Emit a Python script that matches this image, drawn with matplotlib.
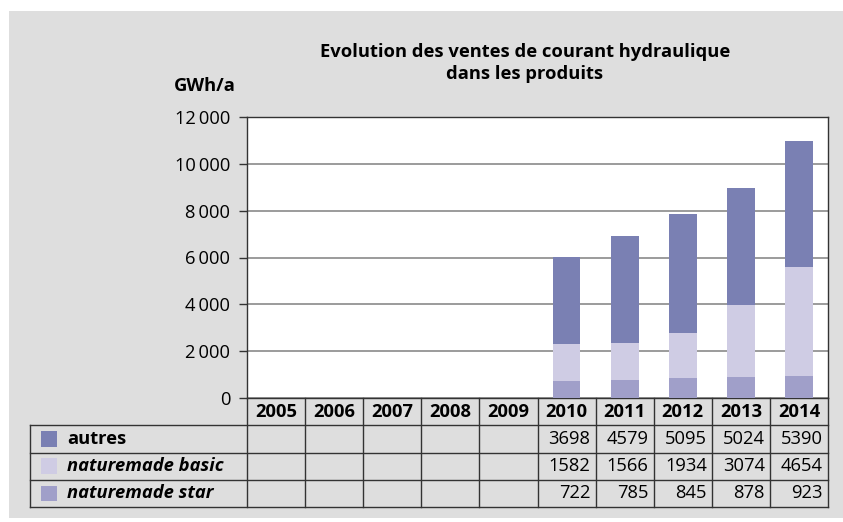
"""
Ventes de courant hydraulique dans les produits naturemade
"""
import numpy as np
import matplotlib
matplotlib.use("Agg")
import matplotlib.pyplot as plt
from matplotlib.patches import Rectangle

# ==========================
# données
# ==========================
years = ["2005", "2006", "2007", "2008", "2009", "2010", "2011", "2012", "2013", "2014"]
autres = [None, None, None, None, None, 3698, 4579, 5095, 5024, 5390]
basic = [None, None, None, None, None, 1582, 1566, 1934, 3074, 4654]
star = [None, None, None, None, None, 722, 785, 845, 878, 923]

series_names = ["autres", "naturemade basic", "naturemade star"]
series_styles = ["normal", "italic", "italic"]
colors = ["#7a80b3", "#cfcce4", "#a09fc9"]
yticks = [0, 2000, 4000, 6000, 8000, 10000, 12000]

plt.rcParams["font.family"] = ["Open Sans", "DejaVu Sans"]
FS = 13.2

W, H = 843, 522
fig = plt.figure(figsize=(W / 100, H / 100), dpi=100)
fig.patch.set_facecolor("white")

# fond gris
fig.patches.append(Rectangle((9 / W, 0.008), 1 - 9 / W, 1 - 11 / H - 0.008,
                             transform=fig.transFigure, facecolor="#dedede",
                             edgecolor="none", zorder=-10))

# ==========================
# graphique
# ==========================
x0, x1 = 247, 828
ax = fig.add_axes([x0 / W, (H - 398) / H, (x1 - x0) / W, 281 / H])
ax.set_facecolor("white")

x = np.arange(len(years))
a = np.array([v if v is not None else 0 for v in autres], dtype=float)
b = np.array([v if v is not None else 0 for v in basic], dtype=float)
s = np.array([v if v is not None else 0 for v in star], dtype=float)

ax.bar(x, s, 0.48, color=colors[2], zorder=3)
ax.bar(x, b, 0.48, bottom=s, color=colors[1], zorder=3)
ax.bar(x, a, 0.48, bottom=s + b, color=colors[0], zorder=3)

ax.set_xlim(-0.5, len(years) - 0.5)
ax.set_ylim(0, 12000)
ax.set_yticks(yticks)
ax.set_yticklabels([f"{v:,}".replace(",", "\u2009") for v in yticks], fontsize=FS)
ax.set_xticks([])
ax.yaxis.grid(True, color="#808080", linewidth=1.1, zorder=0)
ax.tick_params(axis="y", length=6, width=1, color="#333333", pad=6)
for sp in ax.spines.values():
    sp.set_color("#333333")
    sp.set_linewidth(1)

fig.text(525 / W, 1 - 63 / H, "Evolution des ventes de courant hydraulique\ndans les produits",
         ha="center", va="center", fontsize=FS, fontweight="bold", linespacing=1.35)
fig.text(205 / W, 1 - 86 / H, "GWh/a", ha="center", va="center", fontsize=FS,
         fontweight="bold")

# ==========================
# tableau
# ==========================
t0 = 30
unit = (x1 - x0) / len(years)
tax = fig.add_axes([t0 / W, (H - 507) / H, (x1 - t0) / W, 109 / H])
tax.set_xlim(-0.5 - (x0 - t0) / unit, len(years) - 0.5)
tax.set_ylim(4, 0)
tax.axis("off")
left = -0.5 - (x0 - t0) / unit
lc = "#333333"

# lignes horizontales
for yy in [1, 2, 3, 4]:
    tax.plot([left, len(years) - 0.5], [yy, yy], color=lc, lw=1, clip_on=False)
# lignes verticales
for i in range(len(years) + 1):
    tax.plot([i - 0.5, i - 0.5], [0, 4], color=lc, lw=1, clip_on=False)
tax.plot([left, left], [1, 4], color=lc, lw=1, clip_on=False)

for i, yr in enumerate(years):
    tax.text(i, 0.52, yr, ha="center", va="center", fontsize=FS, fontweight="bold")

rows = [autres, basic, star]
for r, (name, st, col, vals) in enumerate(zip(series_names, series_styles, colors, rows)):
    yy = r + 1.5
    tax.add_patch(Rectangle((left + 11 / unit, yy - 0.28), 16 / unit, 0.56,
                            facecolor=col, edgecolor="none", clip_on=False))
    tax.text(left + 37 / unit, yy, name, ha="left", va="center", fontsize=FS,
             fontweight="bold", fontstyle=st)
    for i, v in enumerate(vals):
        if v is not None:
            tax.text(i + 0.5 - 5 / unit, yy, str(v), ha="right", va="center", fontsize=FS)

fig.savefig("out.png", dpi=100)
plt.close()
